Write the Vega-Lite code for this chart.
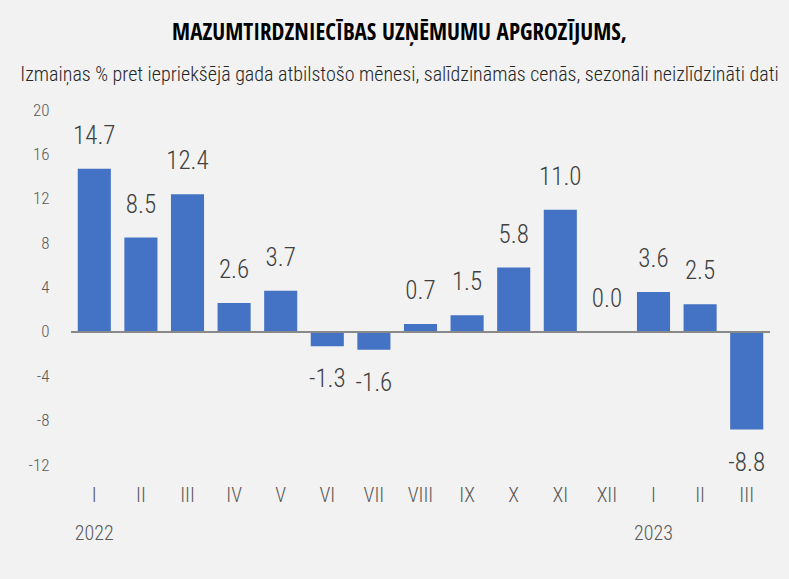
{
  "$schema": "https://vega.github.io/schema/vega-lite/v6.json",
  "autosize": {"type": "fit", "contains": "padding"},
  "width": 789,
  "height": 579,
  "padding": {"left": 28, "top": 22, "right": 18, "bottom": 36},
  "background": "#f2f2f2",
  "title": {
    "text": "MAZUMTIRDZNIECĪBAS UZŅĒMUMU APGROZĪJUMS,",
    "subtitle": "Izmaiņas % pret iepriekšējā gada atbilstošo mēnesi, salīdzināmās cenās, sezonāli neizlīdzināti dati",
    "anchor": "middle",
    "frame": "bounds",
    "font": "Open Sans Condensed",
    "fontSize": 23,
    "fontWeight": 700,
    "color": "#000000",
    "subtitleFont": "Roboto Condensed",
    "subtitleFontWeight": 300,
    "subtitleFontSize": 20,
    "subtitleColor": "#262626",
    "subtitlePadding": 20,
    "offset": 16
  },
  "config": {
    "view": {"stroke": null},
    "locale": {"number": {"decimal": ".", "thousands": ",", "grouping": [3], "currency": ["", ""], "minus": "-"}}
  },
  "data": {
    "values": [
      {"k": "2022-I", "v": 14.7},
      {"k": "2022-II", "v": 8.5},
      {"k": "2022-III", "v": 12.4},
      {"k": "2022-IV", "v": 2.6},
      {"k": "2022-V", "v": 3.7},
      {"k": "2022-VI", "v": -1.3},
      {"k": "2022-VII", "v": -1.6},
      {"k": "2022-VIII", "v": 0.7},
      {"k": "2022-IX", "v": 1.5},
      {"k": "2022-X", "v": 5.8},
      {"k": "2022-XI", "v": 11.0},
      {"k": "2022-XII", "v": 0.0},
      {"k": "2023-I", "v": 3.6},
      {"k": "2023-II", "v": 2.5},
      {"k": "2023-III", "v": -8.8}
    ]
  },
  "layer": [
    {
      "mark": {"type": "bar", "color": "#4472c4"},
      "encoding": {
        "x": {
          "field": "k", "type": "ordinal", "sort": null,
          "scale": {"paddingInner": 0.29, "paddingOuter": 0.145},
          "axis": {
            "title": null, "domain": false, "ticks": false, "labelAngle": 0,
            "labelFont": "Roboto Condensed", "labelFontWeight": 300, "labelFontSize": 20, "labelColor": "#595959",
            "labelPadding": 20, "labelLineHeight": 38,
            "labelExpr": "split(datum.value,'-')[1] == 'I' ? ['I', split(datum.value,'-')[0]] : split(datum.value,'-')[1]"
          }
        },
        "y": {
          "field": "v", "type": "quantitative",
          "scale": {"domain": [-12, 20], "nice": false, "zero": true},
          "axis": {
            "title": null, "domain": false, "ticks": false, "grid": false,
            "values": [-12, -8, -4, 0, 4, 8, 12, 16, 20],
            "labelFont": "Roboto Condensed", "labelFontWeight": 300, "labelFontSize": 17, "labelColor": "#595959",
            "labelPadding": 22
          }
        }
      }
    },
    {
      "data": {"values": [{"z": 0}]},
      "mark": {"type": "rule", "color": "#898989", "strokeWidth": 2},
      "encoding": {"y": {"field": "z", "type": "quantitative"}}
    },
    {
      "transform": [{"filter": "datum.v >= 0"}],
      "mark": {"type": "text", "font": "Roboto Condensed", "fontWeight": 300, "fontSize": 25, "color": "#404040", "baseline": "middle", "dy": -33},
      "encoding": {
        "x": {"field": "k", "type": "ordinal", "sort": null},
        "y": {"field": "v", "type": "quantitative"},
        "text": {"field": "v", "type": "quantitative", "format": ".1f"}
      }
    },
    {
      "transform": [{"filter": "datum.v < 0"}],
      "mark": {"type": "text", "font": "Roboto Condensed", "fontWeight": 300, "fontSize": 25, "color": "#404040", "baseline": "middle", "dy": 33},
      "encoding": {
        "x": {"field": "k", "type": "ordinal", "sort": null},
        "y": {"field": "v", "type": "quantitative"},
        "text": {"field": "v", "type": "quantitative", "format": ".1f"}
      }
    }
  ]
}
